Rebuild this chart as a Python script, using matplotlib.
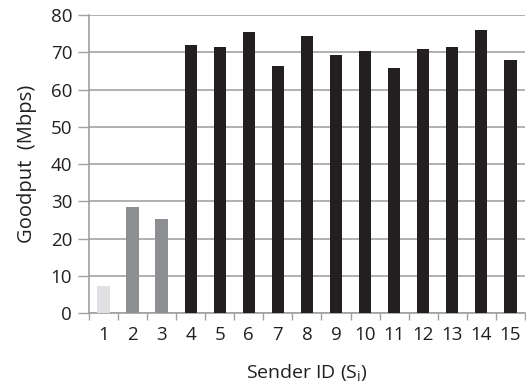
import matplotlib
matplotlib.use("Agg")
import matplotlib.pyplot as plt
from matplotlib.ticker import FixedLocator
import numpy as np

senders = [str(i) for i in range(1, 16)]
goodput = [7.2, 28.4, 25.4, 71.9, 71.4, 75.4, 66.3, 74.4, 69.3, 70.3, 65.8, 70.9, 71.4, 76.0, 67.9]
colors = ["#e1e1e3", "#8d8e91", "#8d8e91"] + ["#231f20"] * 12

plt.rcParams['font.family'] = ['Open Sans', 'DejaVu Sans']

fig = plt.figure(figsize=(5.26, 3.88), dpi=100)
ax = fig.add_axes([0.169, 0.193, 0.829, 0.768])

x = np.arange(len(senders))
ax.bar(x, goodput, width=0.42, color=colors, zorder=3)

ax.set_xlim(-0.5, len(senders) - 0.5)
ax.set_ylim(0, 80)
ax.set_yticks(range(0, 81, 10))
ax.set_xticks(x)
ax.set_xticklabels(senders)
ax.xaxis.set_minor_locator(FixedLocator(np.arange(-0.5, len(senders), 1.0)))
ax.tick_params(axis='x', which='major', length=0, labelsize=13.5, pad=9, labelcolor='#231f20')
ax.tick_params(axis='x', which='minor', length=5, color='#a0a0a0', width=1)
ax.tick_params(axis='y', length=8, color='#a0a0a0', width=1, labelsize=13.5, labelcolor='#231f20', pad=4)

ax.grid(axis='y', color='#a3a3a3', linewidth=1.2, zorder=0)
for s in ['top', 'right']:
    ax.spines[s].set_visible(False)
ax.spines['left'].set_color('#a0a0a0')
ax.spines['bottom'].set_color('#a0a0a0')
ax.spines['left'].set_linewidth(1.2)
ax.spines['bottom'].set_linewidth(1.2)

ax.set_ylabel('Goodput  (Mbps)', fontsize=14.5, color='#231f20', labelpad=10)
ax.set_xlabel('Sender ID (S$_\\mathregular{i}$)', fontsize=14, color='#231f20', labelpad=14)

fig.savefig('out.png', dpi=100)
